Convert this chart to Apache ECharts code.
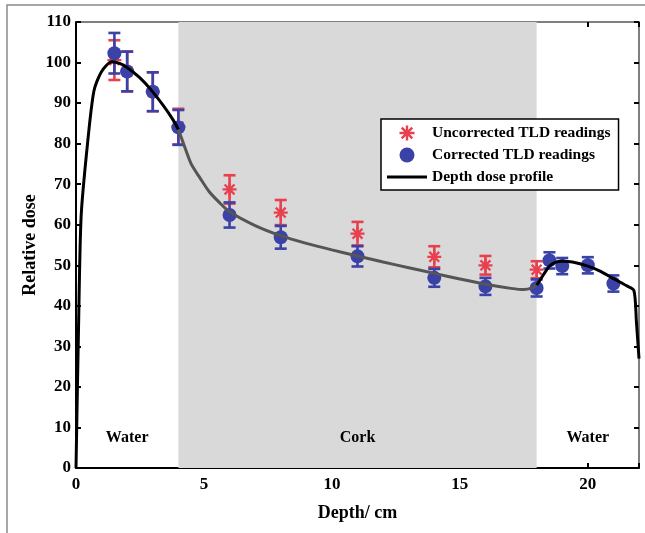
<!DOCTYPE html>
<html>
<head>
<meta charset="utf-8">
<script src="https://cdn.jsdelivr.net/npm/echarts@6/dist/echarts.min.js"></script>
<style>
html,body{margin:0;padding:0;background:#fff;}
#chart{width:645px;height:533px;}
</style>
</head>
<body>
<div id="chart"></div>
<script>
// ---- Data ----
const xTicks = [0, 5, 10, 15, 20];
const yTicks = [0, 10, 20, 30, 40, 50, 60, 70, 80, 90, 100, 110];

const depthCorrected = [1.5, 2, 3, 4, 6, 8, 11, 14, 16, 18, 18.5, 19, 20, 21];
const doseCorrected  = [102.3, 97.8, 92.8, 84.0, 62.4, 56.9, 52.2, 46.9, 44.8, 44.4, 51.2, 49.8, 50.0, 45.5];
const errCorrected   = [5.0, 4.9, 4.8, 4.3, 3.1, 2.8, 2.5, 2.2, 2.1, 2.1, 2.0, 2.0, 2.0, 2.0];

const depthUncorrected = [1.5, 2, 3, 4, 6, 8, 11, 14, 16, 18];
const doseUncorrected  = [100.6, 97.8, 92.8, 84.2, 68.7, 63.0, 57.8, 52.1, 50.0, 48.9];
const errUncorrected   = [4.9, 4.9, 4.8, 4.4, 3.5, 3.1, 2.9, 2.6, 2.3, 2.1];

const profileDepth = [0, 0.1, 0.2, 0.45, 0.7, 1.0, 1.4, 1.7, 2.0, 2.5, 2.9, 3.4, 3.8, 4.0, 4.2, 4.5, 4.85, 5.2, 5.6, 6.0, 7.0, 8.0, 9.0, 10, 11, 12, 13, 14, 15, 16, 17, 17.5, 17.85, 18.0, 18.1, 18.3, 18.5, 18.75, 19.0, 19.4, 20.0, 20.5, 21.0, 21.5, 21.8, 21.9, 22.0];
const profileDose  = [0, 35, 62, 80, 93, 97.8, 100.2, 99.8, 98.8, 96.2, 93.5, 89.5, 85.8, 83.5, 80.0, 75.0, 71.5, 68.2, 65.5, 63.2, 59.8, 57.3, 55.4, 53.8, 52.3, 50.8, 49.4, 48.0, 46.6, 45.3, 44.3, 44.0, 44.5, 45.1, 46.0, 48.0, 49.8, 50.8, 51.0, 50.8, 49.8, 48.5, 46.7, 45.0, 43.8, 36.0, 27.0];

const regionNames = ['Water', 'Cork', 'Water'];
const regionFrom  = [0, 4, 18];
const regionTo    = [4, 18, 22];

// ---- Styles ----
const RED = '#e8404e';
const BLUE = '#3a42a8';
const FONT = 'Liberation Serif';
const ASTERISK = 'path://M-1.6,-10L1.6,-10L1.6,10L-1.6,10Z M-10,-1.6L10,-1.6L10,1.6L-10,1.6Z M-5.9,-8.2L8.2,5.9L5.9,8.2L-8.2,-5.9Z M5.9,-8.2L8.2,-5.9L-5.9,8.2L-8.2,5.9Z';
const LINE_ICON = 'path://M0,0L40,0L40,3L0,3Z';
const SEGMENT_COLORS = { Water: '#000000', Cork: '#555555' };

function errRender(color) {
  return function (params, api) {
    const x = api.value(0), y = api.value(1), e = api.value(2);
    const top = api.coord([x, y + e]);
    const bot = api.coord([x, y - e]);
    const hw = 6;
    const st = { stroke: color, lineWidth: 2.6 };
    return {
      type: 'group',
      children: [
        { type: 'line', shape: { x1: top[0], y1: top[1], x2: bot[0], y2: bot[1] }, style: st },
        { type: 'line', shape: { x1: top[0] - hw, y1: top[1], x2: top[0] + hw, y2: top[1] }, style: st },
        { type: 'line', shape: { x1: bot[0] - hw, y1: bot[1], x2: bot[0] + hw, y2: bot[1] }, style: st }
      ]
    };
  };
}

const zip3 = (a, b, c) => a.map((v, i) => [v, b[i], c[i]]);
const zip2 = (a, b) => a.map((v, i) => [v, b[i]]);

const areaData = regionNames.map((n, i) => [
  { name: n, xAxis: regionFrom[i], itemStyle: { color: n === 'Cork' ? '#d9d9d9' : 'rgba(0,0,0,0)' } },
  { xAxis: regionTo[i] }
]);

// profile split into region segments (sharing boundary points)
const profilePts = zip2(profileDepth, profileDose);
const profileSeries = regionNames.map((n, i) => ({
  name: 'Depth dose profile', type: 'line', z: 7,
  symbol: 'none', smooth: 0.25, clip: true,
  lineStyle: { width: 3, color: SEGMENT_COLORS[n] },
  itemStyle: { color: '#000' },
  data: profilePts.filter(p => p[0] >= regionFrom[i] && p[0] <= regionTo[i])
}));

const chart = echarts.init(document.getElementById('chart'), null, { renderer: 'canvas' });

const labelFont = { fontFamily: FONT, fontWeight: 'bold', fontSize: 17, color: '#000' };

chart.setOption({
  animation: false,
  backgroundColor: '#fff',
  textStyle: { fontFamily: FONT },
  graphic: [{
    type: 'rect',
    shape: { x: 7, y: 5, width: 700, height: 600 },
    style: { fill: 'none', stroke: '#8a8a8a', lineWidth: 1.5 },
    silent: true, z: -10
  }],
  grid: { left: 76, right: 6, top: 22, bottom: 65, containLabel: false },
  xAxis: [{
    type: 'value', min: 0, max: 22, interval: 5,
    name: 'Depth/ cm', nameLocation: 'middle', nameGap: 36, nameMoveOverlap: false,
    nameTextStyle: { fontFamily: FONT, fontWeight: 'bold', fontSize: 18, color: '#000' },
    axisLine: { show: true, onZero: false, lineStyle: { color: '#000', width: 2 } },
    axisTick: { show: true, inside: true, length: 5, lineStyle: { color: '#000', width: 2 } },
    axisLabel: Object.assign({ margin: 8, formatter: v => xTicks.includes(v) ? String(v) : '' }, labelFont),
    splitLine: { show: false }
  }, {
    type: 'value', min: 0, max: 22, interval: 5, position: 'top',
    axisLine: { show: true, onZero: false, lineStyle: { color: '#555', width: 1.5 } },
    axisTick: { show: true, inside: true, length: 5, lineStyle: { color: '#000', width: 2 } },
    axisLabel: { show: false }, splitLine: { show: false }
  }],
  yAxis: [{
    type: 'value', min: 0, max: 110, interval: 10,
    name: 'Relative dose', nameLocation: 'middle', nameGap: 37, nameRotate: 90, nameMoveOverlap: false,
    nameTextStyle: { fontFamily: FONT, fontWeight: 'bold', fontSize: 18, color: '#000' },
    axisLine: { show: true, onZero: false, lineStyle: { color: '#000', width: 2 } },
    axisTick: { show: true, inside: true, length: 5, lineStyle: { color: '#000', width: 2 } },
    axisLabel: Object.assign({ margin: 5, formatter: v => yTicks.includes(v) ? String(v) : '' }, labelFont),
    splitLine: { show: false }
  }, {
    type: 'value', min: 0, max: 110, interval: 10, position: 'right',
    axisLine: { show: true, onZero: false, lineStyle: { color: '#555', width: 1.5 } },
    axisTick: { show: true, inside: true, length: 5, lineStyle: { color: '#000', width: 2 } },
    axisLabel: { show: false }, splitLine: { show: false }
  }],
  legend: {
    orient: 'vertical',
    left: 381, top: 119,
    padding: [6, 8, 5, 6],
    itemGap: 6,
    itemWidth: 40, itemHeight: 15,
    backgroundColor: '#fff',
    borderColor: '#000', borderWidth: 1.5,
    textStyle: { fontFamily: FONT, fontWeight: 'bold', fontSize: 15.5, color: '#000' },
    data: [
      { name: 'Uncorrected TLD readings', icon: ASTERISK, itemStyle: { color: RED } },
      { name: 'Corrected TLD readings', icon: 'circle', itemStyle: { color: BLUE } },
      { name: 'Depth dose profile', icon: LINE_ICON, itemStyle: { color: '#000' } }
    ]
  },
  series: [
    {
      name: 'regions', type: 'scatter', data: [], z: 0, silent: true,
      markArea: {
        silent: true,
        label: { show: true, position: 'insideBottom', distance: 22, fontFamily: FONT, fontWeight: 'bold', fontSize: 16, color: '#000' },
        data: areaData
      }
    },
    {
      name: 'errUnc', type: 'custom', z: 3, renderItem: errRender(RED),
      encode: { x: 0, y: 1 }, data: zip3(depthUncorrected, doseUncorrected, errUncorrected)
    },
    {
      name: 'Uncorrected TLD readings', type: 'scatter', z: 4,
      symbol: ASTERISK, symbolSize: 14, itemStyle: { color: RED, opacity: 1 },
      data: zip2(depthUncorrected, doseUncorrected)
    },
    {
      name: 'errCorr', type: 'custom', z: 5, renderItem: errRender(BLUE),
      encode: { x: 0, y: 1 }, data: zip3(depthCorrected, doseCorrected, errCorrected)
    },
    {
      name: 'Corrected TLD readings', type: 'scatter', z: 6,
      symbol: 'circle', symbolSize: 14, itemStyle: { color: BLUE, opacity: 1 },
      data: zip2(depthCorrected, doseCorrected)
    }
  ].concat(profileSeries)
});
</script>
</body>
</html>
